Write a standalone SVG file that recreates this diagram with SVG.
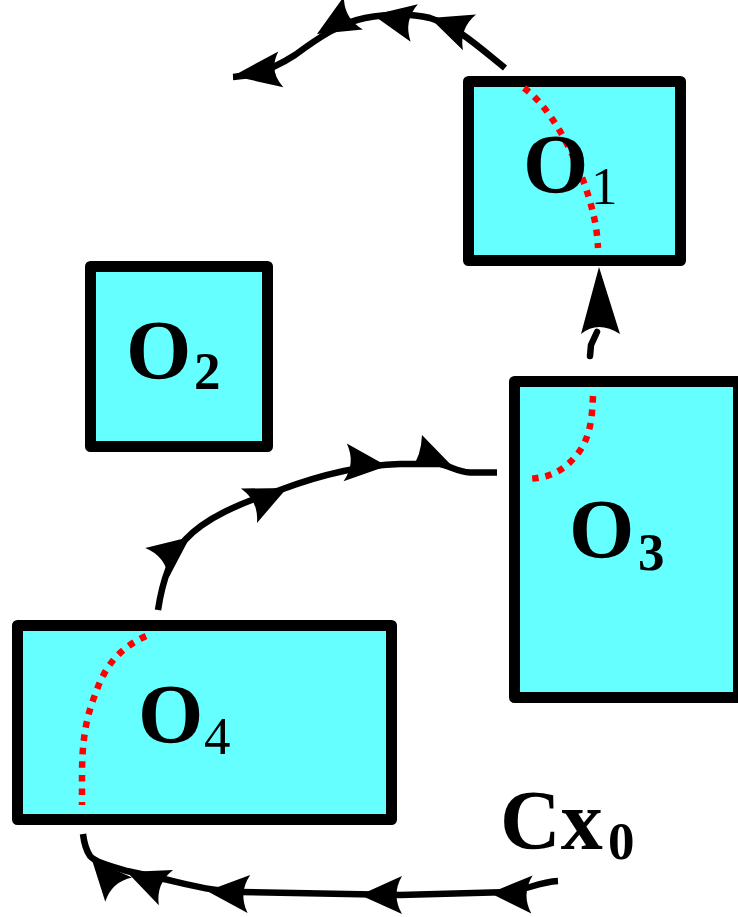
<svg xmlns="http://www.w3.org/2000/svg" xmlns:xlink="http://www.w3.org/1999/xlink" width="738" height="917" viewBox="0 0 738 917">
<style>
.box{fill:#66ffff;stroke:#000;stroke-width:11;stroke-linejoin:round}
.lbl{font-family:"Liberation Serif","DejaVu Serif",serif;font-weight:bold;font-size:84px;fill:#000}
.sub{font-size:53px}
.reg{font-weight:normal}
.red{fill:none;stroke:#ff0000;stroke-width:6.5;stroke-dasharray:6.5 7}
.ln{fill:none;stroke:#000;stroke-width:6.5}
.ah{fill:#000}
</style>
<defs>
<path id="ah" d="M0,0 L-42,-19 Q-31,0 -42,19 Z"/>
</defs>
<rect width="738" height="917" fill="#fff"/>
<g id="O1">
<rect class="box" x="468.5" y="81.5" width="212" height="179"/>
<path class="red" d="M524,88 C548,105 570,145 583,180 C592,205 597,225 598,248"/>
<text class="lbl" x="523" y="193">O<tspan class="sub reg" x="591" y="204">1</tspan></text>
</g>
<g id="O2">
<rect class="box" x="90.5" y="266.5" width="177" height="180"/>
<text class="lbl" x="126" y="379">O<tspan class="sub" x="194" y="389">2</tspan></text>
</g>
<g id="O3">
<rect class="box" x="514.5" y="381.5" width="224" height="316"/>
<path class="red" d="M593,396 C592,420 590,440 575,457 C562,472 548,478 527,479"/>
<text class="lbl" x="569" y="558">O<tspan class="sub" x="638" y="570">3</tspan></text>
</g>
<g id="O4">
<rect class="box" x="17.5" y="625.5" width="374" height="194"/>
<path class="red" d="M146,636 C120,648 105,665 95,695 C85,720 82,745 82,775 L82,805"/>
<text class="lbl" x="138" y="743">O<tspan class="sub reg" x="204" y="754">4</tspan></text>
</g>
<g id="Cx0">
<text class="lbl" x="500" y="849">Cx<tspan class="sub" x="608" y="859">0</tspan></text>
</g>
<g id="connectors">
<path class="ln" d="M505,68 C480,48 458,27 430,18 C410,13 385,14 365,18 C340,23 318,38 295,55 C275,68 255,76 233,77"/>
<use xlink:href="#ah" class="ah" transform="translate(430,18) rotate(200)"/>
<use xlink:href="#ah" class="ah" transform="translate(373,15) rotate(191)"/>
<use xlink:href="#ah" class="ah" transform="translate(317,34) rotate(150)"/>
<use xlink:href="#ah" class="ah" transform="translate(233,76) rotate(172) scale(1.15,0.95)"/>

<path class="ln" d="M158,610 C161,590 168,560 185,540 C205,518 240,503 280,490 C320,475 360,465 400,464 L440,464 C450,466 458,472 470,472.5 L497,472.5"/>
<use xlink:href="#ah" class="ah" transform="translate(190,537) rotate(-38)"/>
<use xlink:href="#ah" class="ah" transform="translate(287,488) rotate(-25)"/>
<use xlink:href="#ah" class="ah" transform="translate(387,466) rotate(5)"/>
<path class="ah" d="M412,467 Q421,456 422,435 L456,470 L440,467 Z"/>

<path class="ln" d="M590,356 L591,345 L597,332" stroke-linecap="round" stroke-linejoin="round"/>
<path class="ah" d="M599,267 L581,334 Q598,320 620,334 Z"/>

<path class="ln" d="M558,881 C540,882 528,889 510,892 L400,895 L240,892 C205,891 180,882 150,876 L127,871 C110,866 95,862 90,856 C86,850 84,842 83,834"/>
<use xlink:href="#ah" class="ah" transform="translate(490,893) rotate(182)"/>
<use xlink:href="#ah" class="ah" transform="translate(360,895) rotate(180)"/>
<use xlink:href="#ah" class="ah" transform="translate(207,891) rotate(184)"/>
<use xlink:href="#ah" class="ah" transform="translate(127,872) rotate(202)"/>
<use xlink:href="#ah" class="ah" transform="translate(92,860) rotate(228) scale(0.95)"/>
</g>
</svg>
